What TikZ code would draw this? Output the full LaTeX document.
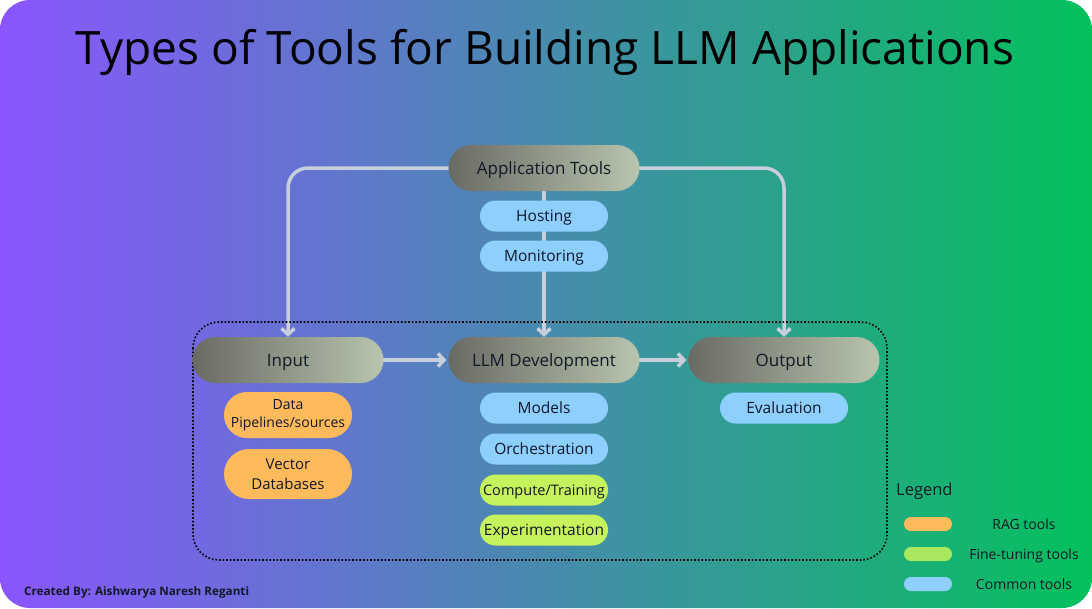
\documentclass[tikz,border=0pt]{standalone}
\usepackage{fontspec}
\setmainfont{Open Sans}
\usetikzlibrary{arrows.meta}
\definecolor{bgL}{HTML}{8A55FF}
\definecolor{bgR}{HTML}{04C15C}
\definecolor{pillL}{HTML}{6A6A64}
\definecolor{pillR}{HTML}{B8C5AE}
\definecolor{blueP}{HTML}{8DCFFF}
\definecolor{orangeP}{HTML}{FFBA5C}
\definecolor{greenP}{HTML}{C6F25E}
\definecolor{greenL}{HTML}{A9E85E}
\definecolor{connC}{HTML}{C6CFDB}
\definecolor{txt}{HTML}{111827}
\pgfdeclarelayer{bg}
\pgfdeclarelayer{conn}
\pgfsetlayers{bg,conn,main}
\tikzset{
  stage/.style={rectangle, rounded corners=23pt, minimum width=191pt, minimum height=46pt,
    left color=pillL, right color=pillR, text=txt, font=\fontsize{17}{19}\selectfont, inner sep=0pt,
    text height=12.1pt, text depth=0pt},
  tool/.style={rectangle, rounded corners=15.5pt, minimum width=128pt, minimum height=31pt,
    text=txt, font=\fontsize{15.5}{18}\selectfont, inner sep=0pt, align=center,
    text height=11pt, text depth=0pt},
  bluetool/.style={tool, fill=blueP},
  greentool/.style={tool, fill=greenP},
  orangetool/.style={rectangle, fill=orangeP, minimum width=128pt, minimum height=46pt, rounded corners=23pt,
    text=txt, inner sep=0pt, align=center, font=\fontsize{14}{18.5}\selectfont},
  conn/.style={draw=connC, line width=3.5pt, rounded corners=20pt, line cap=round,
    -{Straight Barb[length=6pt,width=13pt,line width=3.5pt]}},
  swatch/.style={rectangle, rounded corners=7pt, minimum width=48pt, minimum height=14pt, inner sep=0pt},
  legtext/.style={text=txt, font=\fontsize{14}{16}\selectfont, inner sep=0pt, text height=10pt, text depth=0pt}
}
\begin{document}
\begin{tikzpicture}[x=1pt,y=-1pt]
\useasboundingbox (0,0) rectangle (1092,608);
\begin{pgfonlayer}{bg}
\fill[white] (0,0) rectangle (1092,608);
\shade[left color=bgL, right color=bgR, rounded corners=30pt] (0,0) rectangle (1092,608);
\end{pgfonlayer}

\node[text=black, font=\fontsize{46}{52}\selectfont, inner sep=0pt, text height=33pt, text depth=0pt] (title) at (545,48) {Types of Tools for Building LLM Applications};

\draw[dotted, line width=1.6pt, rounded corners=26pt] (193,322) rectangle (887,560);

\node[stage] (app) at (544,168) {Application Tools};
\node[bluetool] (host) at (544,216) {Hosting};
\node[bluetool] (mon) at (544,256) {Monitoring};

\node[stage] (inp) at (288,360) {Input};
\node[stage] (llm) at (544,360) {LLM Development};
\node[stage] (out) at (784,360) {Output};

\node[orangetool] (data) at (288,415) {Data\\Pipelines/sources};
\node[orangetool, minimum height=50pt, rounded corners=25pt, font=\fontsize{15}{20}\selectfont] (vec) at (288,474) {Vector\\Databases};

\node[bluetool] (models) at (544,408) {Models};
\node[bluetool] (orch) at (544,449) {Orchestration};
\node[greentool, font=\fontsize{14.5}{17}\selectfont, text height=10.4pt] (comp) at (544,490) {Compute/Training};
\node[greentool] (exp) at (544,530) {Experimentation};

\node[bluetool] (eval) at (784,408) {Evaluation};

\begin{pgfonlayer}{conn}
\draw[conn] (app.west) -| (inp.north);
\draw[conn] (app.east) -| (out.north);
\draw[conn] (app.south) -- (llm.north);
\draw[conn, rounded corners=0pt] (inp.east) -- ([xshift=-2pt]llm.west);
\draw[conn, rounded corners=0pt] (llm.east) -- ([xshift=-2pt]out.west);
\end{pgfonlayer}

\node[text=txt, font=\fontsize{16.5}{18}\selectfont, anchor=west, inner sep=0pt, text height=11.8pt, text depth=0pt] (leg) at (896,490) {Legend};
\node[swatch, fill=orangeP] (s1) at (928,524) {};
\node[swatch, fill=greenL] (s2) at (928,554) {};
\node[swatch, fill=blueP] (s3) at (928,584) {};
\node[legtext] (l1) at (1024,524) {RAG tools};
\node[legtext] (l2) at (1024,554) {Fine-tuning tools};
\node[legtext] (l3) at (1024,584) {Common tools};

\node[text=txt, font=\bfseries\fontsize{11.7}{13}\selectfont, anchor=west, inner sep=0pt, text height=8.4pt, text depth=0pt] (credit) at (24,591) {Created By: Aishwarya Naresh Reganti};
\end{tikzpicture}
\end{document}
